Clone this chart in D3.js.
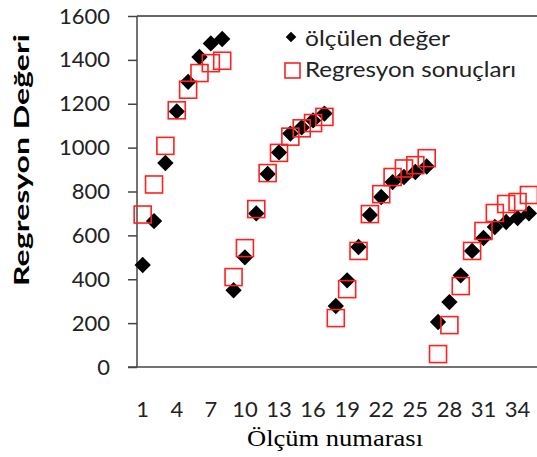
<!DOCTYPE html>
<html>
<head>
<meta charset="utf-8">
<script src="https://cdn.jsdelivr.net/npm/d3@7"></script>
<style>
  body { margin: 0; background: #fff; }
  svg { display: block; }
</style>
</head>
<body>
<div class="chart"></div>
<script>
// measurement number 1..35
var olcumNo = d3.range(1, 36);

// measured values (black diamonds)
var olculen = [465, 665, 930, 1165, 1300, 1413, 1475, 1495,
               350, 500, 700, 880, 978, 1064, 1092, 1124, 1155,
               278, 395, 547, 693, 775, 843, 866, 889, 914,
               205, 296, 418, 529, 588, 638, 661, 679, 700];

// regression results (red squares)
var regresyon = [695, 832, 1008, 1170, 1264, 1340, 1385, 1396,
                 410, 542, 720, 884, 976, 1050, 1088, 1112, 1140,
                 223, 355, 529, 697, 788, 866, 905, 920, 952,
                 59, 191, 369, 529, 620, 702, 743, 752, 784];

var yTicks = [0, 200, 400, 600, 800, 1000, 1200, 1400, 1600];
var xTickLabels = [1, 4, 7, 10, 13, 16, 19, 22, 25, 28, 31, 34];

var width = 537, height = 457;
var plotLeft = 137, plotTop = 16, plotBottom = 367;
var step = 11.36;

var svg = d3.select(".chart").append("svg")
    .attr("width", width)
    .attr("height", height);

var x = d3.scaleBand()
    .domain(olcumNo)
    .range([plotLeft, plotLeft + olcumNo.length * step]);

var y = d3.scaleLinear()
    .domain([0, 1600])
    .range([plotBottom, plotTop]);

var cx = function(d, i){ return x(olcumNo[i]) + x.bandwidth() / 2; };

// top line at 1600
svg.append("line")
    .attr("x1", plotLeft).attr("x2", width)
    .attr("y1", y(1600)).attr("y2", y(1600))
    .attr("stroke", "#333").attr("stroke-width", 1.5);

// y axis
var yAxis = svg.append("g")
    .attr("transform", "translate(" + plotLeft + ",0)")
    .call(d3.axisLeft(y).tickValues(yTicks).tickFormat(d3.format("d")).tickSize(9).tickPadding(18));
yAxis.select(".domain").remove();
yAxis.append("line")
    .attr("x1", 0).attr("x2", 0)
    .attr("y1", y(1600)).attr("y2", y(0))
    .attr("stroke", "#444").attr("stroke-width", 1.5);
yAxis.selectAll(".tick line").attr("stroke", "#444").attr("stroke-width", 1.5);
yAxis.selectAll(".tick text")
    .attr("font-family", "Lato, sans-serif")
    .attr("font-size", 22)
    .attr("fill", "#222");

// x axis
var xAxis = svg.append("g")
    .attr("transform", "translate(0," + plotBottom + ")")
    .call(d3.axisBottom(x).tickValues(xTickLabels).tickSize(0).tickPadding(34));
xAxis.select(".domain").remove();
xAxis.append("line")
    .attr("x1", plotLeft - 9).attr("x2", width)
    .attr("y1", 0).attr("y2", 0)
    .attr("stroke", "#444").attr("stroke-width", 1.5);
xAxis.selectAll(".tick text")
    .attr("font-family", "Lato, sans-serif")
    .attr("font-size", 22)
    .attr("fill", "#222");

// diamonds
var diamond = d3.symbol().type(d3.symbolDiamond2).size(170);
svg.append("g").selectAll("path")
    .data(olculen)
    .enter()
    .append("path")
    .attr("d", diamond)
    .attr("transform", function(d, i){ return "translate(" + cx(d, i) + "," + y(d) + ")"; })
    .attr("fill", "#000");

// squares
var sq = 17;
svg.append("g").selectAll("rect")
    .data(regresyon)
    .enter()
    .append("rect")
    .attr("x", function(d, i){ return cx(d, i) - sq / 2; })
    .attr("y", function(d){ return y(d) - sq / 2; })
    .attr("width", sq)
    .attr("height", sq)
    .attr("fill", "none")
    .attr("stroke", "#ff2020")
    .attr("stroke-width", 1.6);

// axis titles
svg.append("text")
    .attr("transform", "translate(29,160) rotate(-90)")
    .attr("text-anchor", "middle")
    .attr("font-family", "Lato, sans-serif")
    .attr("font-weight", "bold")
    .attr("font-size", 20)
    .attr("textLength", 252)
    .attr("lengthAdjust", "spacingAndGlyphs")
    .attr("fill", "#000")
    .text("Regresyon Değeri");

svg.append("text")
    .attr("x", 335)
    .attr("y", 446)
    .attr("text-anchor", "middle")
    .attr("font-family", "'Liberation Serif', serif")
    .attr("font-size", 24)
    .attr("textLength", 176)
    .attr("lengthAdjust", "spacingAndGlyphs")
    .attr("fill", "#000")
    .text("Ölçüm numarası");

// legend
var legend = svg.append("g");
legend.append("path")
    .attr("d", d3.symbol().type(d3.symbolDiamond2).size(72))
    .attr("transform", "translate(291,37)")
    .attr("fill", "#000");
legend.append("rect")
    .attr("x", 285).attr("y", 63)
    .attr("width", 15).attr("height", 15)
    .attr("fill", "none")
    .attr("stroke", "#ff2020")
    .attr("stroke-width", 1.6);
legend.append("text")
    .attr("x", 305).attr("y", 46)
    .attr("font-family", "Lato, sans-serif")
    .attr("font-size", 22)
    .attr("textLength", 145)
    .attr("lengthAdjust", "spacingAndGlyphs")
    .attr("fill", "#222")
    .text("ölçülen değer");
legend.append("text")
    .attr("x", 305).attr("y", 77)
    .attr("font-family", "Lato, sans-serif")
    .attr("font-size", 22)
    .attr("textLength", 211)
    .attr("lengthAdjust", "spacingAndGlyphs")
    .attr("fill", "#222")
    .text("Regresyon sonuçları");
</script>
</body>
</html>
